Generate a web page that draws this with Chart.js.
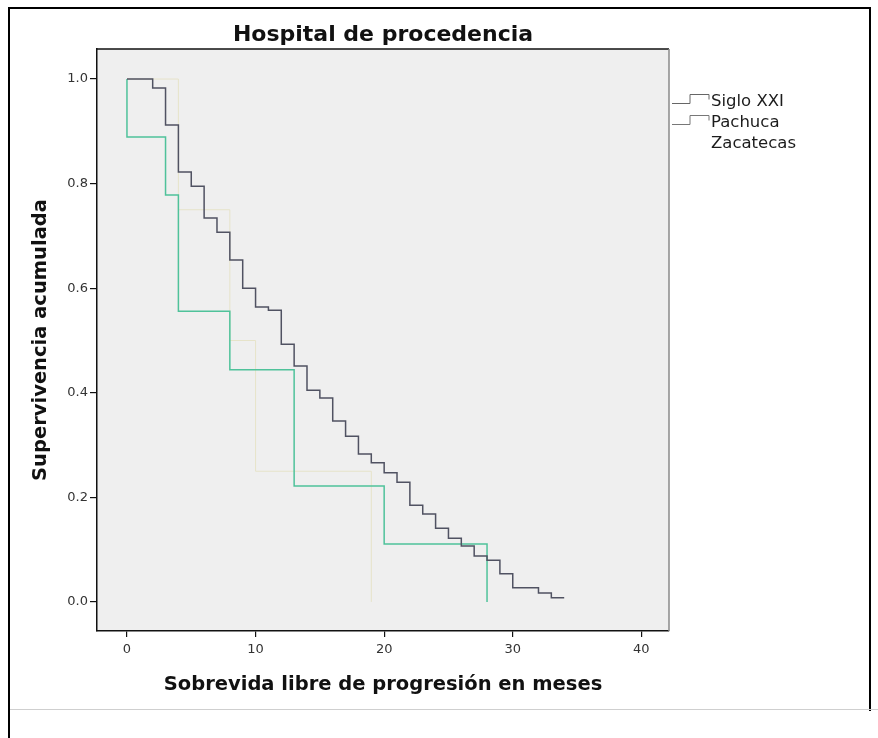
<!DOCTYPE html>
<html>
<head>
<meta charset="utf-8">
<script src="https://cdn.jsdelivr.net/npm/chart.js@4.4.1/dist/chart.umd.min.js"></script>
<style>
html,body{margin:0;padding:0;background:#fff;}
#wrap{position:relative;width:878px;height:738px;}
#frame{position:absolute;left:8px;top:7px;width:859px;height:702px;border-left:2px solid #000;border-top:2px solid #000;border-right:2px solid #000;pointer-events:none;}
#leftline{position:absolute;left:8px;top:709px;width:2px;height:29px;background:#000;pointer-events:none;}
#bottomline{position:absolute;left:10px;top:709px;width:868px;height:1px;background:#cfcfcf;pointer-events:none;}
</style>
</head>
<body>
<div id="wrap">
<canvas id="c"></canvas>
<div id="frame"></div>
<div id="leftline"></div>
<div id="bottomline"></div>
</div>
<script>
// ---- data ----
const chartTitle = 'Hospital de procedencia';
const xAxisTitle = 'Sobrevida libre de progresión en meses';
const yAxisTitle = 'Supervivencia acumulada';
const seriesNames = ['Siglo XXI', 'Pachuca', 'Zacatecas'];

const sigloTimes = [0, 2, 3, 4, 5, 6, 7, 8, 9, 10, 11, 12, 13, 14, 15, 16, 17, 18, 19, 20, 21, 22, 23, 24, 25, 26, 27, 28, 29, 30, 32, 33, 34];
const sigloSurv  = [1.0, 0.983, 0.912, 0.822, 0.795, 0.734, 0.707, 0.654, 0.600, 0.564, 0.558, 0.493, 0.451, 0.405, 0.390, 0.346, 0.317, 0.283, 0.266, 0.247, 0.229, 0.185, 0.168, 0.141, 0.122, 0.107, 0.088, 0.080, 0.054, 0.027, 0.017, 0.008, 0.008];

const pachucaTimes = [0, 0, 3, 4, 8, 13, 20, 28];
const pachucaSurv  = [1.0, 0.889, 0.778, 0.556, 0.444, 0.222, 0.111, 0.0];

const zacatecasTimes = [0, 4, 8, 10, 19, 19];
const zacatecasSurv  = [1.0, 0.75, 0.5, 0.25, 0.25, 0.0];

const xTickValues = [0, 10, 20, 30, 40];
const yTickValues = [0.0, 0.2, 0.4, 0.6, 0.8, 1.0];

// ---- styles ----
const seriesColors = ['#505262', '#4fc29a', '#e6e3c9'];
const seriesWidths = [1.5, 1.5, 1];
const legendIconColors = ['#666666', '#777777', null];

function toPoints(ts, ss) { return ts.map((t, i) => ({ x: t, y: ss[i] })); }

const datasets = [
  { label: seriesNames[0], data: toPoints(sigloTimes, sigloSurv) },
  { label: seriesNames[1], data: toPoints(pachucaTimes, pachucaSurv) },
  { label: seriesNames[2], data: toPoints(zacatecasTimes, zacatecasSurv) }
].map((d, i) => Object.assign(d, {
  borderColor: seriesColors[i],
  borderWidth: seriesWidths[i],
  stepped: true,
  pointRadius: 0,
  fill: false,
  legendIcon: legendIconColors[i],
  order: i
}));

const areaPlugin = {
  id: 'areaPlugin',
  beforeDraw(chart) {
    const { ctx, chartArea: a } = chart;
    ctx.save();
    ctx.fillStyle = '#efefef';
    ctx.fillRect(a.left, a.top, a.right - a.left, a.bottom - a.top);
    ctx.restore();
  },
  afterDraw(chart) {
    const { ctx, chartArea: a } = chart;
    ctx.save();
    ctx.lineWidth = 1.5;
    ctx.strokeStyle = '#111';
    ctx.beginPath();
    ctx.moveTo(a.left, a.top);
    ctx.lineTo(a.right, a.top);
    ctx.stroke();
    ctx.strokeStyle = '#8a8a8a';
    ctx.beginPath();
    ctx.moveTo(a.right, a.top);
    ctx.lineTo(a.right, a.bottom);
    ctx.stroke();
    // chart title, centred over the plot area
    ctx.font = 'bold 22px "DejaVu Sans"';
    ctx.fillStyle = '#111';
    ctx.textAlign = 'center';
    ctx.textBaseline = 'middle';
    ctx.fillText(chartTitle, (a.left + a.right) / 2, 35);
    ctx.restore();
  }
};

const legendPlugin = {
  id: 'kmLegend',
  afterDraw(chart) {
    const { ctx, chartArea: a } = chart;
    ctx.save();
    ctx.font = '16.5px "DejaVu Sans"';
    ctx.fillStyle = '#1c1c1c';
    ctx.textBaseline = 'middle';
    ctx.textAlign = 'left';
    chart.data.datasets.forEach((ds, i) => {
      const y = a.top + 53 + i * 21;
      const x0 = a.right + 3;
      if (ds.legendIcon) {
        ctx.strokeStyle = ds.legendIcon;
        ctx.lineWidth = 1;
        ctx.beginPath();
        ctx.moveTo(x0, y + 1.5);
        ctx.lineTo(x0 + 18, y + 1.5);
        ctx.lineTo(x0 + 18, y - 7.5);
        ctx.lineTo(x0 + 37, y - 7.5);
        ctx.lineTo(x0 + 37, y - 2.5);
        ctx.stroke();
      }
      ctx.fillText(ds.label, a.right + 42, y);
    });
    ctx.restore();
  }
};

new Chart(document.getElementById('c'), {
  type: 'line',
  data: { datasets },
  plugins: [areaPlugin, legendPlugin],
  options: {
    responsive: true,
    maintainAspectRatio: false,
    animation: false,
    layout: { padding: { left: 0, right: 209, top: 49, bottom: 0 } },
    plugins: {
      legend: { display: false },
      tooltip: { enabled: false },
      title: { display: false }
    },
    scales: {
      x: {
        type: 'linear',
        min: -2.33,
        max: 42.15,
        afterFit(scale) { scale.height = 107; },
        afterBuildTicks(scale) { scale.ticks = xTickValues.map(v => ({ value: v })); },
        grid: { display: true, drawOnChartArea: false, drawTicks: true, tickLength: 6, color: '#111', lineWidth: 1.2 },
        border: { display: true, color: '#111', width: 1.5 },
        ticks: { color: '#333', font: { family: 'DejaVu Sans', size: 13 }, padding: 5, callback: v => String(v) },
        title: {
          display: true,
          text: xAxisTitle,
          color: '#111',
          font: { family: 'DejaVu Sans', size: 19.5, weight: 'bold', lineHeight: 1.2 },
          padding: { top: 4, bottom: 41 }
        }
      },
      y: {
        type: 'linear',
        min: -0.0555,
        max: 1.0574,
        afterFit(scale) { scale.width = 97; },
        afterBuildTicks(scale) { scale.ticks = yTickValues.map(v => ({ value: v })); },
        grid: { display: true, drawOnChartArea: false, drawTicks: true, tickLength: 7, color: '#111', lineWidth: 1.2 },
        border: { display: true, color: '#111', width: 1.5 },
        ticks: { color: '#333', font: { family: 'DejaVu Sans', size: 13 }, padding: 2, callback: v => Number(v).toFixed(1) },
        title: {
          display: true,
          text: yAxisTitle,
          color: '#111',
          font: { family: 'DejaVu Sans', size: 19.5, weight: 'bold', lineHeight: 1.2 },
          padding: { top: 29, bottom: 4 }
        }
      }
    }
  }
});
</script>
</body>
</html>
